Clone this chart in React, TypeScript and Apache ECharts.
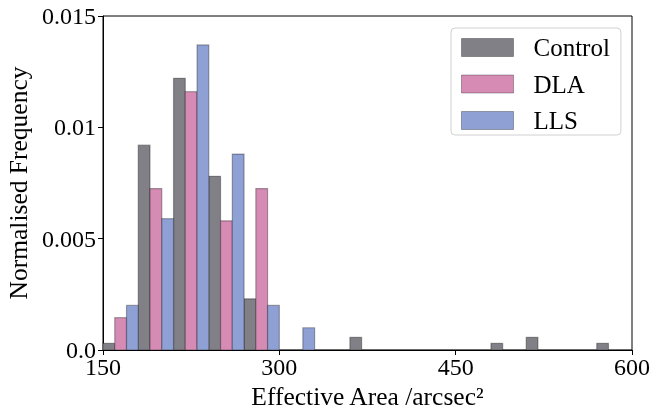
import React, { useEffect, useRef } from "react";
import * as echarts from "echarts";

// Histogram bins (left edges, width 30 arcsec^2); each bin is split into three sub-bars.
const binStarts = [150, 180, 210, 240, 270, 300, 330, 360, 390, 420, 450, 480, 510, 540, 570];
const binWidth = 30;

const seriesNames = ["Control", "DLA", "LLS"];
const controlFreq = [0.0003, 0.0092, 0.0122, 0.0078, 0.0023, 0, 0, 0.00057, 0, 0, 0, 0.0003, 0.00057, 0, 0.0003];
const dlaFreq = [0.00145, 0.00725, 0.0116, 0.0058, 0.00725, 0, 0, 0, 0, 0, 0, 0, 0, 0, 0];
const llsFreq = [0.002, 0.0059, 0.0137, 0.0088, 0.002, 0.001, 0, 0, 0, 0, 0, 0, 0, 0, 0];

const yTicks = ["0.0", "0.005", "0.01", "0.015"];
const xTicks = [150, 300, 450, 600];

const colors = ["#828087", "#d68bb4", "#8fa0d4"];
const edge = "rgba(0,0,0,0.32)";
const FONT = "Liberation Serif, Times New Roman, serif";

export default function App() {
  const ref = useRef<HTMLDivElement>(null);

  useEffect(() => {
    if (!ref.current) return;
    const chart = echarts.init(ref.current, null, { renderer: "svg" });
    const allFreq = [controlFreq, dlaFreq, llsFreq];
    const sub = binWidth / allFreq.length;

    const series = allFreq.map((vals, gi) => ({
      type: "custom",
      name: seriesNames[gi],
      itemStyle: { color: colors[gi], borderColor: "rgba(0,0,0,0.35)", borderWidth: 1 },
      encode: { x: [0, 1], y: 2 },
      data: vals.map((v, i) => [binStarts[i] + gi * sub, binStarts[i] + (gi + 1) * sub, v]),
      renderItem: (params: any, api: any) => {
        const p0 = api.coord([api.value(0), api.value(2)]);
        const p1 = api.coord([api.value(1), 0]);
        return {
          type: "rect",
          shape: { x: p0[0], y: p0[1], width: p1[0] - p0[0], height: p1[1] - p0[1] },
          style: { fill: colors[gi], stroke: edge, lineWidth: 1.2 },
        };
      },
    }));

    const txt = { fontFamily: FONT, fontSize: 24, color: "#000" };
    const nameTxt = { fontFamily: FONT, fontSize: 25.5, color: "#000" };

    chart.setOption({
      animation: false,
      textStyle: { fontFamily: FONT, color: "#000" },
      grid: {
        left: 103,
        right: 20,
        top: 16,
        bottom: 66,
        show: true,
        borderColor: "#000",
        borderWidth: 1,
        containLabel: false,
        outerBoundsMode: "none",
      },
      legend: {
        left: 451,
        top: 28,
        orient: "vertical",
        itemWidth: 52,
        itemHeight: 18,
        itemGap: 11.5,
        padding: [7, 11, 2, 10],
        borderColor: "#d0d0d0",
        borderWidth: 1,
        borderRadius: 4,
        backgroundColor: "#fff",
        textStyle: { ...txt, fontSize: 25, padding: [0, 0, 0, 15] },
        data: seriesNames.map((n, i) => ({
          name: n,
          icon: "rect",
          itemStyle: { color: colors[i], borderColor: "rgba(0,0,0,0.3)", borderWidth: 1 },
        })),
      },
      xAxis: {
        type: "value",
        min: 150,
        max: 600,
        interval: 150,
        name: "Effective Area /arcsec²",
        nameLocation: "middle",
        nameGap: 32,
        nameTextStyle: nameTxt,
        axisLine: { show: true, lineStyle: { color: "#000", width: 1 } },
        axisTick: { show: true, length: 5, lineStyle: { color: "#000" } },
        axisLabel: {
          ...txt,
          margin: 5,
          formatter: (v: number) => (xTicks.includes(v) ? String(v) : ""),
        },
        splitLine: { show: false },
      },
      yAxis: {
        type: "value",
        min: 0,
        max: 0.015,
        interval: 0.005,
        name: "Normalised Frequency",
        nameLocation: "middle",
        nameGap: 72,
        nameTextStyle: nameTxt,
        axisLine: { show: true, lineStyle: { color: "#000", width: 1 } },
        axisTick: { show: true, length: 5, lineStyle: { color: "#000" } },
        axisLabel: {
          ...txt,
          margin: 7,
          formatter: (v: number) => yTicks[Math.round(v / 0.005)] ?? "",
        },
        splitLine: { show: false },
      },
      series,
    });
    return () => chart.dispose();
  }, []);

  return (
    <div
      ref={ref}
      style={{ position: "fixed", left: 0, top: 0, width: 652, height: 416 }}
    />
  );
}
